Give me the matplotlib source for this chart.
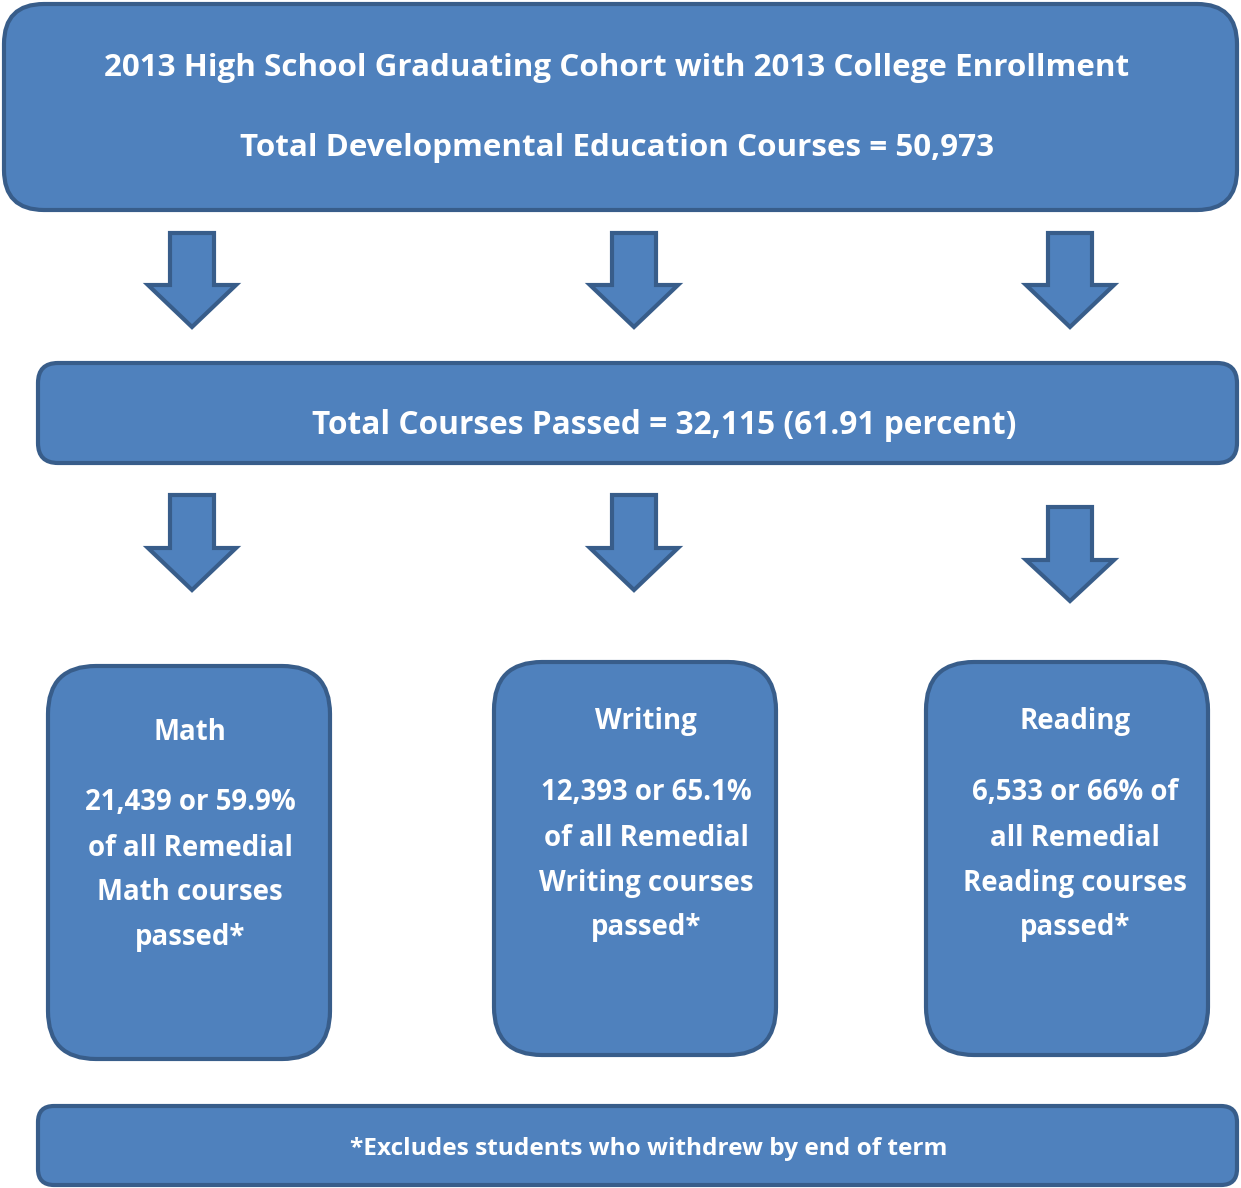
import matplotlib.pyplot as plt
from matplotlib.patches import FancyBboxPatch, Polygon

plt.rcParams['font.family'] = ['Open Sans', 'DejaVu Sans']

# text content
title_lines = ["2013 High School Graduating Cohort with 2013 College Enrollment",
               "Total Developmental Education Courses = 50,973"]
passed_text = "Total Courses Passed = 32,115 (61.91 percent)"
subjects = ["Math", "Writing", "Reading"]
subject_lines = [
    ["21,439 or 59.9%", "of all Remedial", "Math courses", "passed*"],
    ["12,393 or 65.1%", "of all Remedial", "Writing courses", "passed*"],
    ["6,533 or 66% of", "all Remedial", "Reading courses", "passed*"],
]
footnote = "*Excludes students who withdrew by end of term"

FILL = "#4F81BD"
EDGE = "#385D8A"

W, H = 1241, 1188
fig = plt.figure(figsize=(W / 100, H / 100), dpi=100)
ax = fig.add_axes([0, 0, 1, 1])
ax.set_xlim(0, W)
ax.set_ylim(H, 0)
ax.axis('off')


def box(x0, y0, x1, y1, r):
    p = FancyBboxPatch((x0, y0), x1 - x0, y1 - y0,
                       boxstyle="round,pad=0,rounding_size=%d" % r,
                       fc=FILL, ec=EDGE, lw=3)
    ax.add_patch(p)


def arrow(cx, top, head, tip, shaft=22, half=44):
    pts = [(cx - shaft, top), (cx + shaft, top), (cx + shaft, head),
           (cx + half, head), (cx, tip), (cx - half, head), (cx - shaft, head)]
    ax.add_patch(Polygon(pts, closed=True, fc=FILL, ec=EDGE, lw=3, joinstyle='miter'))


txt = dict(color='white', fontweight='bold', ha='center', va='center')

# top box
box(4, 4, 1237, 210, 40)
ax.text(617, 68, title_lines[0], fontsize=22.6, **txt)
ax.text(617, 148, title_lines[1], fontsize=22.6, **txt)

# arrows row 1
for cx in [192, 634, 1070]:
    arrow(cx, 233, 285, 327)

# middle box
box(38, 363, 1237, 463, 20)
ax.text(664, 425, passed_text, fontsize=22.8, **txt)

# arrows row 2
for cx, top, head, tip in [(192, 495, 548, 590), (634, 495, 548, 590), (1070, 507, 560, 601)]:
    arrow(cx, top, head, tip)

# subject boxes
boxes = [(48, 666, 330, 1059), (494, 662, 776, 1055), (926, 662, 1208, 1055)]
text_x = [190, 646, 1075]
label_y = [732, 722, 722]
for (x0, y0, x1, y1), name, lines, cx, ly in zip(boxes, subjects, subject_lines, text_x, label_y):
    box(x0, y0, x1, y1, 48)
    ax.text(cx, ly, name, fontsize=19.9, **txt)
    for i, line in enumerate(lines):
        ax.text(cx, ly + 71 + 45 * i, line, fontsize=19.9, **txt)

# footnote box
box(38, 1106, 1237, 1185, 16)
ax.text(649, 1149, footnote, fontsize=17.6, **txt)

fig.savefig("out.png", dpi=100)
